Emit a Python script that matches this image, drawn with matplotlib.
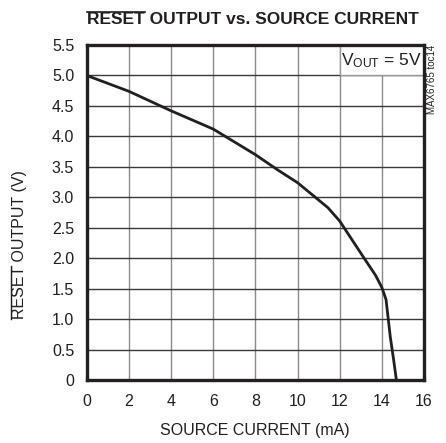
import matplotlib
matplotlib.use("Agg")
import matplotlib.pyplot as plt
from matplotlib.patches import Rectangle
from matplotlib.lines import Line2D

plt.rcParams['font.family'] = ['Liberation Sans Narrow', 'Liberation Sans', 'DejaVu Sans']
plt.rcParams['mathtext.fontset'] = 'custom'
plt.rcParams['mathtext.rm'] = 'Liberation Sans'

# source current (mA) vs reset output (V)
current_ma = [0, 2, 4, 6, 8, 9.1, 10, 11.44, 12, 13.16, 13.7, 14.0, 14.2, 14.4, 14.56, 14.69]
reset_v = [5.0, 4.74, 4.42, 4.12, 3.70, 3.44, 3.24, 2.83, 2.61, 2.0, 1.72, 1.52, 1.32, 0.71, 0.33, 0.0]

x_ticks = [0, 2, 4, 6, 8, 10, 12, 14, 16]
y_ticks = [0, 0.5, 1.0, 1.5, 2.0, 2.5, 3.0, 3.5, 4.0, 4.5, 5.0, 5.5]
y_ticklabels = ['0', '0.5', '1.0', '1.5', '2.0', '2.5', '3.0', '3.5', '4.0', '4.5', '5.0', '5.5']

ink = '#231f20'

fig = plt.figure(figsize=(4.46, 4.43), dpi=100)
ax = fig.add_axes([86.7 / 446, 1 - 380 / 443, (424 - 86.7) / 446, (380 - 45) / 443])

ax.set_xlim(0, 16)
ax.set_ylim(0, 5.5)
ax.set_xticks(x_ticks)
ax.set_yticks(y_ticks)
ax.set_yticklabels(y_ticklabels)
ax.tick_params(length=0, labelsize=11.5, colors=ink)
ax.tick_params(axis='x', pad=10)
ax.tick_params(axis='y', pad=9)
ax.set_axisbelow(True)
ax.xaxis.grid(True, color='#8a8a8a', linewidth=1.0)
ax.yaxis.grid(True, color='#3a3a3a', linewidth=1.0)
for s in ax.spines.values():
    s.set_linewidth(2.4)
    s.set_color(ink)
    s.set_zorder(5)

ax.plot(current_ma, reset_v, color=ink, linewidth=2.0, zorder=3, solid_capstyle='butt')

# condition box in the upper right cells
ax.add_patch(Rectangle((12, 5.0), 4, 0.5, facecolor='white', edgecolor='#9a9a9a',
                       linewidth=1.0, zorder=2))
ax.text(14, 5.24, r'$\mathrm{V_{OUT}}$ = 5V', ha='center', va='center',
        fontsize=12.5, color=ink, zorder=4)

fig.text(255 / 446, 1 - 430 / 443, 'SOURCE CURRENT (mA)', ha='center', va='center',
         fontsize=11.5, color=ink)

# y label with overline on RESET
ylab = fig.text(20 / 446, 1 - 245 / 443, 'RESET OUTPUT (V)', rotation=90, ha='center',
                va='center', fontsize=11.5, color=ink)
fig.text(432 / 446, 1 - 45 / 443, 'MAX6765 toc14', rotation=90, ha='center',
         va='top', fontsize=7, color=ink)

title = fig.text(253 / 446, 1 - 20 / 443, 'RESET OUTPUT vs. SOURCE CURRENT',
                 ha='center', va='center', fontsize=12.5, fontweight='bold', color=ink)

fig.canvas.draw()
r = fig.canvas.get_renderer()
W, H = fig.bbox.width, fig.bbox.height

# overline over RESET in title
tb = title.get_window_extent(r)
probe = fig.text(0, 0, 'RESET', fontsize=12.5, fontweight='bold')
pw = probe.get_window_extent(r).width
probe.remove()
y_ol = (tb.y1 + 1) / H
fig.add_artist(Line2D([tb.x0 / W, (tb.x0 + pw) / W], [y_ol, y_ol],
                      transform=fig.transFigure, color=ink, linewidth=1.2))

# overline over RESET in y label
yb = ylab.get_window_extent(r)
probe = fig.text(0, 0, 'RESET', fontsize=11.5)
ph = probe.get_window_extent(r).width
probe.remove()
x_ol = (yb.x0 - 1) / W
fig.add_artist(Line2D([x_ol, x_ol], [yb.y0 / H, (yb.y0 + ph) / H],
                      transform=fig.transFigure, color=ink, linewidth=1.0))

fig.savefig('out.png', dpi=100)
